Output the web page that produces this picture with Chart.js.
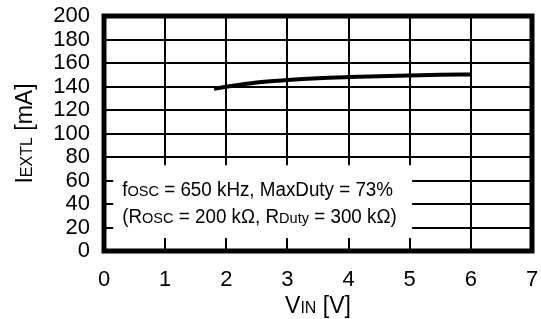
<!DOCTYPE html>
<html lang="en">
<head>
    <meta charset="UTF-8">
    <title>IEXTL vs VIN</title>
    <script src="https://cdn.jsdelivr.net/npm/chart.js"></script>
    <style>
        body { margin: 0; background: #fff; }
        canvas { display: block; }
    </style>
</head>
<body>
    <canvas id="chart" width="541" height="319"></canvas>
    <script>
        // data
        const vin = [1.8, 2, 2.5, 3, 3.5, 4, 4.5, 5, 5.5, 6];
        const iextl = [138, 139.8, 143.5, 145.5, 147, 148, 148.8, 149.4, 149.9, 150.3];

        // axis ranges
        const xRange = [0, 7];
        const yRange = [0, 200];

        // note text, split into big / small runs
        const noteLine1 = [['f', 0], ['OSC', 1], [' = 650 kHz, MaxDuty = 73%', 0]];
        const noteLine2 = [['(R', 0], ['OSC', 1], [' = 200 k\u03A9, R', 0], ['Duty', 1], [' = 300 k\u03A9)', 0]];
        const yTitle = [['I', 0], ['EXTL', 1], [' [mA]', 0]];
        const xTitle = [['V', 0], ['IN', 1], [' [V]', 0]];

        const FONT = '"Liberation Sans", Arial, sans-serif';

        function runsWidth(ctx, runs, big, small) {
            let w = 0;
            runs.forEach(r => {
                ctx.font = (r[1] ? small : big) + 'px ' + FONT;
                w += ctx.measureText(r[0]).width;
            });
            return w;
        }

        function drawRuns(ctx, runs, x, y, big, small) {
            runs.forEach(r => {
                ctx.font = (r[1] ? small : big) + 'px ' + FONT;
                ctx.fillText(r[0], x, y);
                x += ctx.measureText(r[0]).width;
            });
        }

        // white box over the grid for the note, in data units
        const noteBox = { x0: 0.15, x1: 5.04, y0: 11, y1: 73 };

        const notePlugin = {
            id: 'note',
            beforeDatasetsDraw(chart) {
                const ctx = chart.ctx;
                const xs = chart.scales.x, ys = chart.scales.y;
                const l = xs.getPixelForValue(noteBox.x0), r = xs.getPixelForValue(noteBox.x1);
                const t = ys.getPixelForValue(noteBox.y1), b = ys.getPixelForValue(noteBox.y0);
                ctx.save();
                ctx.fillStyle = '#fff';
                ctx.fillRect(l, t, r - l, b - t);
                ctx.restore();
            },
            afterDraw(chart) {
                const ctx = chart.ctx;
                const a = chart.chartArea;
                const xs = chart.scales.x, ys = chart.scales.y;
                ctx.save();
                // frame
                ctx.strokeStyle = '#000';
                ctx.lineWidth = 5;
                ctx.strokeRect(a.left, a.top, a.right - a.left, a.bottom - a.top);

                ctx.fillStyle = '#000';
                ctx.textBaseline = 'alphabetic';
                ctx.textAlign = 'left';

                // note text, slightly condensed
                const nx = xs.getPixelForValue(noteBox.x0) + 9;
                ctx.save();
                ctx.translate(nx, 0);
                ctx.scale(0.94, 1);
                drawRuns(ctx, noteLine1, 0, ys.getPixelForValue(46.5), 20, 15.5);
                drawRuns(ctx, noteLine2, 0, ys.getPixelForValue(23.5), 20, 15.5);
                ctx.restore();

                // x title
                const cx = (a.left + a.right) / 2;
                const wx = runsWidth(ctx, xTitle, 23, 16);
                drawRuns(ctx, xTitle, cx - wx / 2, 312.5, 23, 16);

                // y title
                const cy = (a.top + a.bottom) / 2;
                const wy = runsWidth(ctx, yTitle, 23, 16);
                ctx.translate(31.5, cy + wy / 2);
                ctx.rotate(-Math.PI / 2);
                drawRuns(ctx, yTitle, 0, 0, 23, 16);
                ctx.restore();
            }
        };

        const tickFont = { family: FONT, size: 22 };

        new Chart(document.getElementById('chart').getContext('2d'), {
            type: 'line',
            data: {
                datasets: [{
                    data: vin.map((v, i) => ({ x: v, y: iextl[i] })),
                    borderColor: '#000',
                    borderWidth: 4,
                    pointRadius: 0,
                    tension: 0.4,
                    cubicInterpolationMode: 'monotone',
                    fill: false
                }]
            },
            options: {
                responsive: false,
                animation: false,
                layout: { padding: { left: 0, top: 16, right: 9, bottom: 0 } },
                plugins: { legend: { display: false }, tooltip: { enabled: false } },
                scales: {
                    x: {
                        type: 'linear',
                        min: xRange[0], max: xRange[1],
                        ticks: { stepSize: 1, font: tickFont, color: '#000', padding: 16, maxRotation: 0, autoSkip: false },
                        grid: { color: '#000', lineWidth: 2, drawTicks: false },
                        border: { display: false },
                        afterFit(s) { s.height = 68; s.paddingLeft = 0; s.paddingRight = 0; }
                    },
                    y: {
                        min: yRange[0], max: yRange[1],
                        ticks: { stepSize: 20, font: tickFont, color: '#000', padding: 14, autoSkip: false },
                        grid: { color: '#000', lineWidth: 2, drawTicks: false },
                        border: { display: false },
                        afterFit(s) { s.width = 104; s.paddingTop = 0; s.paddingBottom = 0; }
                    }
                }
            },
            plugins: [notePlugin]
        });
    </script>
</body>
</html>
